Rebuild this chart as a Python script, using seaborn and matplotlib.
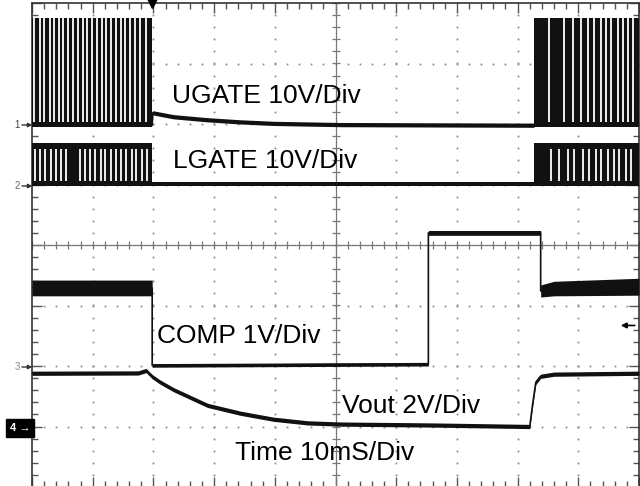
import numpy as np
import pandas as pd
import matplotlib
matplotlib.use("Agg")
import matplotlib.pyplot as plt
import seaborn as sns

# ---------------- data (time in ms, values in volts) ----------------
ugate_t = [19.8, 19.9, 23.3, 28.9, 34.3, 39.8, 50.8, 82.7]
ugate_v = [-0.2, 1.85, 1.2, 0.7, 0.35, 0.1, -0.1, -0.2]
ugate_high = 17.6
ugate_low = -0.2
ugate_bursts = [(0.0, 19.8), (82.7, 100.0)]
ugate_gaps_a = [0.4, 1.3, 2.0, 2.9, 3.6, 4.5, 5.1, 5.9, 6.8, 7.5, 8.4, 9.0,
                9.9, 10.7, 11.5, 12.2, 13.0, 13.9, 14.6, 15.4, 16.1, 17.0, 17.8, 18.7]
ugate_gaps_b = [85.1, 87.6, 89.1, 90.4, 91.6, 92.6, 93.7, 94.6, 95.4, 96.5, 97.4, 98.2, 99.0]

lgate_t = [19.8, 82.7]
lgate_v = [0.1, 0.1]
lgate_high = 6.9
lgate_low = 0.1
lgate_bursts = [(0.0, 19.8), (82.7, 100.0)]
lgate_gaps_a = [0.5, 1.4, 2.2, 3.1, 4.0, 4.8, 5.6, 7.9, 8.7, 9.6, 10.4, 11.3,
                12.1, 13.0, 13.8, 14.7, 15.5, 16.4, 17.2, 18.1, 18.9]
lgate_gaps_b = [85.5, 86.8, 88.3, 89.3, 90.8, 91.7, 92.9, 93.7, 94.9, 95.9, 96.7, 97.9, 98.7]

comp_t = [0.0, 19.8, 19.8, 65.3, 65.3, 83.8, 83.8, 86.0, 100.0]
comp_v = [1.29, 1.29, 0.01, 0.03, 2.20, 2.20, 1.24, 1.28, 1.31]
comp_fuzz = [0.13, 0.13, 0.03, 0.03, 0.04, 0.04, 0.10, 0.12, 0.14]

vout_t = [0.0, 17.5, 18.8, 19.8, 21.1, 23.3, 28.9, 34.3, 39.8, 45.4, 50.8,
          65.7, 82.0, 82.5, 83.0, 83.8, 86.0, 100.0]
vout_v = [1.76, 1.77, 1.85, 1.65, 1.47, 1.22, 0.70, 0.44, 0.24, 0.12, 0.08,
          0.05, 0.00, 0.77, 1.46, 1.66, 1.73, 1.76]

labels = ["UGATE 10V/Div", "LGATE 10V/Div", "COMP 1V/Div", "Vout 2V/Div", "Time 10mS/Div"]

# scope channel settings: (offset in divisions, volts per division)
CH = {"ugate": (2.0, 10.0), "lgate": (1.0, 10.0), "comp": (-2.0, 1.0), "vout": (-3.0, 2.0)}


def to_div(ch, v):
    off, sc = CH[ch]
    return off + np.asarray(v, dtype=float) / sc


# ---------------- figure ----------------
sns.set_theme(style="white")
plt.rcParams["font.family"] = ["Liberation Sans", "DejaVu Sans"]

W, H = 640, 486
fig = plt.figure(figsize=(W / 100, H / 100), dpi=100)
fig.patch.set_facecolor("white")
L, R, T, B = 32, 639, 3, 487
ax = fig.add_axes([L / W, 1 - B / H, (R - L) / W, (B - T) / H])
ax.set_facecolor("white")
ax.set_xlim(0, 100)
ax.set_ylim(-4, 4)

grat = "#8c8c8c"
# dotted graticule
minor_x = np.arange(0, 100.01, 2.0)
minor_y = np.arange(-4, 4.001, 0.2)
for gx in range(10, 100, 10):
    if gx == 50:
        continue
    ax.plot(np.full_like(minor_y, gx), minor_y, ls="none", marker="s", ms=1.3,
            color=grat, mew=0, zorder=1)
for gy in range(-3, 4):
    if gy == 0:
        continue
    ax.plot(minor_x, np.full_like(minor_x, gy), ls="none", marker="s", ms=1.3,
            color=grat, mew=0, zorder=1)
# centre cross with ticks
ax.axhline(0, color="#777777", lw=0.9, zorder=1)
ax.axvline(50, color="#777777", lw=0.9, zorder=1)
ax.plot(minor_x, np.zeros_like(minor_x), ls="none", marker="|", ms=6, mew=0.9,
        color="#777777", zorder=1)
ax.plot(np.full_like(minor_y, 50), minor_y, ls="none", marker="_", ms=6, mew=0.9,
        color="#777777", zorder=1)

# border ticks
ax.set_xticks(np.arange(0, 101, 10))
ax.set_xticks(minor_x, minor=True)
ax.set_yticks(np.arange(-4, 5, 1))
ax.set_yticks(minor_y, minor=True)
ax.tick_params(which="both", direction="in", top=True, right=True, left=True, bottom=True,
               labelleft=False, labelbottom=False, color="#555555", width=1.0)
ax.tick_params(which="major", length=7)
ax.tick_params(which="minor", length=4)
for s in ax.spines.values():
    s.set_color("#333333")
    s.set_linewidth(1.2)

ink = "#111111"


def trace(ch, t, v, fuzz):
    y = to_div(ch, v)
    f = np.asarray(fuzz, dtype=float) / CH[ch][1]
    ax.fill_between(t, y - f, y + f, color=ink, lw=0, zorder=3)
    sns.lineplot(x=t, y=y, ax=ax, color=ink, lw=1.2, estimator=None, sort=False,
                 legend=False, zorder=3)


def burst(ch, spans, gaps_list, high, low, gap_bottom_pad, gap_top_pad):
    hi = float(to_div(ch, high))
    lo = float(to_div(ch, low))
    for (a, b), gaps in zip(spans, gaps_list):
        ax.fill_between([a, b], [lo - 0.035] * 2, [hi] * 2, color=ink, lw=0, zorder=3)
        ax.vlines(gaps, lo + gap_bottom_pad, hi - gap_top_pad, color="white", lw=1.3, zorder=4)


# UGATE
burst("ugate", ugate_bursts, [ugate_gaps_a, ugate_gaps_b], ugate_high, ugate_low, 0.06, -0.01)
trace("ugate", ugate_t, ugate_v, [0.35] * len(ugate_t))
# LGATE
burst("lgate", lgate_bursts, [lgate_gaps_a, lgate_gaps_b], lgate_high, lgate_low, 0.05, 0.10)
trace("lgate", lgate_t, lgate_v, [0.35] * len(lgate_t))
# COMP
trace("comp", comp_t, comp_v, comp_fuzz)
# Vout
trace("vout", vout_t, vout_v, [0.07] * len(vout_t))

ax.set_xlabel("")
ax.set_ylabel("")

# ---------------- annotations ----------------
def ftext(x, y, s, **kw):
    fig.text(x / W, 1 - y / H, s, **kw)

fs = 19
ftext(172, 103, labels[0], fontsize=fs, va="baseline", ha="left", color="black")
ftext(173, 168, labels[1], fontsize=fs, va="baseline", ha="left", color="black")
ftext(157, 343, labels[2], fontsize=fs, va="baseline", ha="left", color="black")
ftext(342, 413, labels[3], fontsize=fs, va="baseline", ha="left", color="black")
ftext(235, 460, labels[4], fontsize=fs, va="baseline", ha="left", color="black")

# channel markers at left
for num, yy, col in [("1", 125, "#444444"), ("2", 186, "#666666"), ("3", 367, "#888888")]:
    ftext(17, yy, num, fontsize=7, va="center", ha="center", color=col)
    ax.annotate("", xy=(L / W + 0.0005, 1 - yy / H), xycoords="figure fraction",
                xytext=(22 / W, 1 - yy / H), textcoords="figure fraction",
                arrowprops=dict(arrowstyle="-|>", color="#333333", lw=1.0,
                                mutation_scale=6, shrinkA=0, shrinkB=0))
ftext(20, 428, "4 \u2192", fontsize=8, va="center", ha="center", color="white",
      fontweight="bold",
      bbox=dict(boxstyle="square,pad=0.35", fc="black", ec="black"))

# trigger position marker at top
ax.plot([19.8], [4.0], marker="v", ms=7, color="black", clip_on=False, zorder=6)
# right side offset arrow
ax.annotate("", xy=(97.0, -1.33), xytext=(99.3, -1.33),
            arrowprops=dict(arrowstyle="-|>", color="black", lw=1.2, mutation_scale=8,
                            shrinkA=0, shrinkB=0), zorder=6)

fig.savefig("out.png", dpi=100, facecolor="white")
